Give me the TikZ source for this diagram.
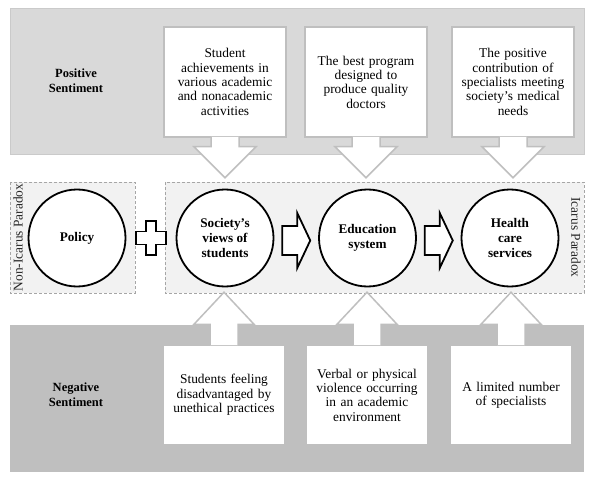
\documentclass[tikz,border=0pt]{standalone}
\usepackage{fontspec}
\setmainfont{Liberation Serif}
\usetikzlibrary{calc}
\definecolor{posPanel}{HTML}{D9D9D9}
\definecolor{posPanelLine}{HTML}{CACACA}
\definecolor{negPanel}{HTML}{BFBFBF}
\definecolor{calloutLine}{HTML}{BFBFBF}
\definecolor{paradoxFill}{HTML}{F2F2F2}
\definecolor{paradoxLine}{HTML}{A6A6A6}

\begin{document}
\begin{tikzpicture}[x=1pt,y=-1pt,
  stage/.style={circle, draw=black, line width=1.8pt, fill=white, minimum size=97pt, inner sep=0pt, align=center, font=\fontsize{13.2}{15}\selectfont\bfseries},
  factbox/.style={draw=calloutLine, line width=1.5pt, fill=white, text width=118pt, inner sep=2pt, minimum height=#1, align=center, font=\fontsize{13.4}{14.3}\selectfont},
  callout/.style={draw=calloutLine, line width=1.5pt, fill=white},
  flowarrow/.style={draw=black, line width=1.8pt, fill=white, line join=miter},
  paradox/.style={draw=paradoxLine, densely dashed, line width=0.5pt, fill=paradoxFill},
  sentiment/.style={align=center, font=\fontsize{12.5}{15}\selectfont\bfseries},
  sidelabel/.style={font=\fontsize{13.4}{14}\selectfont, text=black!85}]
\fill[white] (0,0) rectangle (594,481);
\useasboundingbox (0,0) rectangle (594,481);

%
\draw[fill=posPanel, draw=posPanelLine, line width=0.8pt] (10,8) rectangle (584,154);
\fill[negPanel] (10,325) rectangle (584,472);
\node[sentiment] (pos) at (76,81) {Positive\\Sentiment};
\node[sentiment] (neg) at (76,395) {Negative\\Sentiment};

%
\draw[paradox] (10,182) rectangle (135,293);
\draw[paradox] (165,182) rectangle (584,293);
\node[sidelabel, rotate=90] (nonicarus) at (18,237.5) {Non-Icarus Paradox};
\node[sidelabel, rotate=-90] (icarus) at (576,237.5) {Icarus Paradox};

%
\node[stage] (policy) at (77,238) {Policy};
\node[stage] (society) at (225,238) {Society’s\\views of\\students};
\node[stage] (education) at (367.5,238) {Education\\system};
\node[stage] (health) at (510,238) {Health\\care\\services};

\coordinate (plus) at ($(policy.east)!0.5!(society.west)$);
\draw[flowarrow] ($(plus)+(-5,-17)$) -- ++(10,0) -- ++(0,10.5) -- ++(10,0) -- ++(0,13) -- ++(-10,0) -- ++(0,10.5) -- ++(-10,0) -- ++(0,-10.5) -- ++(-10,0) -- ++(0,-13) -- ++(10,0) -- cycle;
\coordinate (arr1) at ($(society.east)!0.5!(education.west)+(0,2.5)$);
\coordinate (arr2) at ($(education.east)!0.5!(health.west)+(0,2.5)$);
\foreach \ar in {arr1,arr2}
  \draw[flowarrow] ($(\ar)+(-14,-14.5)$) -- ++(15,0) -- ++(0,-13) -- ($(\ar)+(14,0)$) -- ($(\ar)+(1,27.5)$) -- ++(0,-13) -- ++(-15,0) -- cycle;

%
\node[factbox=110pt] (achieve) at (225,82) {Student\\achievements in\\various academic\\and nonacademic\\activities};
\node[factbox=110pt] (program) at (366,82) {The best program\\designed to\\produce quality\\doctors};
\node[factbox=110pt] (contrib) at (513,82) {The positive\\contribution of\\specialists meeting\\society’s medical\\needs};
\foreach \fb in {achieve,program,contrib}
  \draw[callout] ($(\fb.south)+(-14,-0.75)$) -- ++(0,9.75) -- ++(-17,0) -- ($(\fb.south)+(0,40)$) -- ($(\fb.south)+(31,9)$) -- ++(-17,0) -- ($(\fb.south)+(14,-0.75)$);

%
\node[factbox=100pt] (unethical) at (224,395) {Students feeling\\disadvantaged by\\unethical practices};
\node[factbox=100pt] (violence) at (367,395) {Verbal or physical\\violence occurring\\in an academic\\environment};
\node[factbox=100pt] (shortage) at (511,395) {A limited number\\of specialists};
\foreach \fb in {unethical,violence,shortage}
  \draw[callout] ($(\fb.north)+(-14,0.75)$) -- ++(0,-20.75) -- ++(-16,0) -- ($(\fb.north)+(0,-52)$) -- ($(\fb.north)+(30,-20)$) -- ++(-16,0) -- ($(\fb.north)+(14,0.75)$);
\end{tikzpicture}
\end{document}
